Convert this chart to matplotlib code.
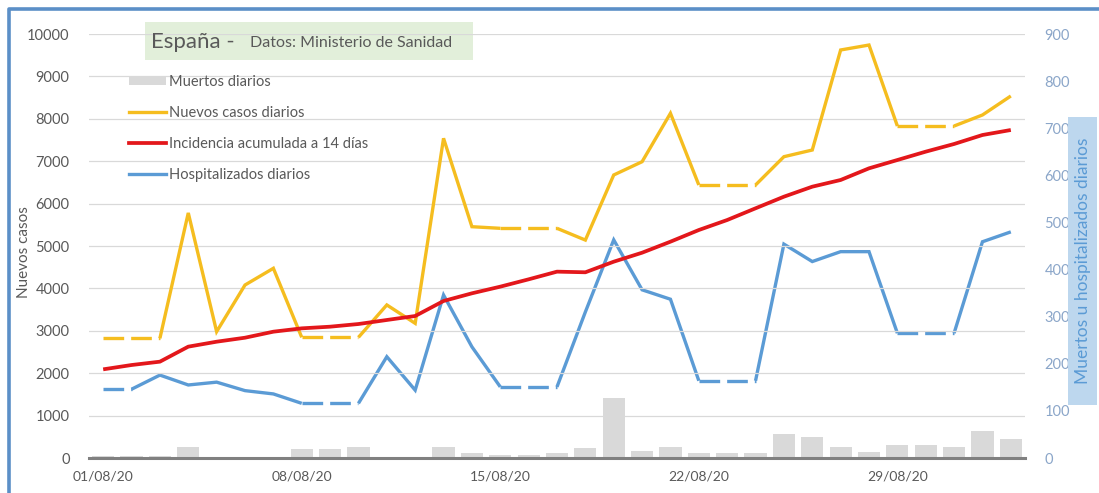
import matplotlib

matplotlib.use("Agg")
import matplotlib.pyplot as plt  # noqa: E402
import numpy as np  # noqa: E402
from matplotlib.lines import Line2D  # noqa: E402
from matplotlib.patches import Patch, Rectangle  # noqa: E402

# Daily series, 01/08/20 .. 02/09/20
dates = [f"{d:02d}/08/20" for d in range(1, 32)] + ["01/09/20", "02/09/20"]
nuevos_casos = [2823, 2823, 2823, 5780, 2980, 4080, 4474, 2846, 2846, 2846,
                3610, 3176, 7540, 5455, 5417, 5417, 5417, 5140, 6675, 6988,
                8130, 6439, 6439, 6439, 7106, 7264, 9623, 9740, 7830, 7830,
                7830, 8090, 8538]
incidencia_14d = [2091, 2193, 2272, 2626, 2743, 2837, 2979, 3058, 3097, 3160,
                  3255, 3349, 3703, 3884, 4041, 4214, 4395, 4380, 4630, 4842,
                  5102, 5377, 5613, 5889, 6163, 6399, 6557, 6832, 7028, 7225,
                  7406, 7618, 7736]
hospitalizados = [146, 146, 176, 155, 161, 143, 136, 116, 116, 116,
                  215, 144, 346, 236, 151, 151, 151, 310, 463, 357,
                  337, 164, 164, 164, 454, 417, 438, 438, 265, 265,
                  265, 459, 480]
muertos = [5, 5, 5, 24, 0, 0, 0, 20, 20, 24,
           3, 0, 24, 10, 6, 6, 10, 22, 127, 15,
           24, 10, 10, 10, 52, 45, 24, 13, 28, 28,
           24, 57, 40]
# weekend gaps (filled with the last reported value, drawn dashed)
casos_gaps = [(0, 2), (7, 9), (14, 16), (21, 23), (28, 30)]
hosp_gaps = [(0, 1), (7, 9), (14, 16), (21, 23), (28, 30)]

C = {
    "casos": "#f5bd1f",
    "incid": "#e3171b",
    "hosp": "#5b9bd5",
    "muertos": "#d9d9d9",
    "grid": "#d9d9d9",
    "axis": "#808080",
    "ink": "#595959",
    "right": "#8ba6c9",
    "title_bg": "#e2efda",
    "label_bg": "#bdd7ee",
}

W, H = 1099, 493

plt.rcParams["font.family"] = ["Lato", "DejaVu Sans"]


def fx(px):
    return px / W


def fy(py):
    return 1 - py / H


def draw_gapped(ax, x, y, gaps, color, lw=2.4):
    """Solid line between reported values, dashed across filled gaps."""
    y = np.asarray(y, float)
    starts = [0] + [b for (_, b) in gaps]
    ends = [a for (a, _) in gaps] + [len(y) - 1]
    for s, e in zip(starts, ends):
        if e > s:
            ax.plot(x[s:e + 1], y[s:e + 1], color=color, lw=lw,
                    solid_capstyle="butt", solid_joinstyle="miter", zorder=3)
    for a, b in gaps:
        ax.plot(x[a:b + 1], y[a:b + 1], color=color, lw=lw,
                linestyle=(0, (6.2, 2.1)), dash_capstyle="butt", zorder=3)


fig = plt.figure(figsize=(W / 100, H / 100), dpi=100)
fig.patch.set_facecolor("white")
ax = fig.add_axes([fx(89), fy(458), fx(1025 - 89), (458 - 34) / H])
ax2 = ax.twinx()

x = np.arange(len(dates))

# deaths as bars on the right scale, behind the lines
ax2.bar(x, muertos, width=0.78, color=C["muertos"], zorder=1)
ax2.set_ylim(0, 900)
ax2.set_yticks(range(0, 901, 100))
ax2.tick_params(axis="y", length=0, colors=C["right"], labelsize=10.5, pad=14)

draw_gapped(ax2, x, hospitalizados, hosp_gaps, C["hosp"])

ax.set_zorder(ax2.get_zorder() + 1)
ax.patch.set_visible(False)
ax.plot(x, incidencia_14d, color=C["incid"], lw=2.7, zorder=4,
        solid_capstyle="butt")
draw_gapped(ax, x, nuevos_casos, casos_gaps, C["casos"])

ax.set_ylim(0, 10000)
ax.set_yticks(range(0, 10001, 1000))
ax.grid(True, axis="y", color=C["grid"], lw=0.9)
ax.set_axisbelow(True)
ax.set_xlim(-0.5, len(dates) - 0.5)
ax.axhline(0, color=C["axis"], lw=2.2, zorder=5, clip_on=False)
ax.tick_params(axis="y", length=0, colors=C["ink"], labelsize=10.5, pad=14)
ax.set_xticks(x[::7])
ax.set_xticklabels(dates[::7])
ax.tick_params(axis="x", length=0, colors=C["ink"], labelsize=10, pad=9)
for a in (ax, ax2):
    for s in a.spines.values():
        s.set_visible(False)

# axis titles
fig.text(fx(24), fy(252), "Nuevos casos", rotation=90, ha="center",
         va="center", color=C["ink"], fontsize=11)
fig.patches.append(Rectangle((fx(1068), fy(405)), fx(29), (405 - 117) / H,
                             transform=fig.transFigure, fc=C["label_bg"],
                             ec="none", zorder=0))
fig.text(fx(1083), fy(261), "Muertos u hospitalizados diarios",
         rotation=90, ha="center", va="center", color=C["hosp"], fontsize=12.5)

handles = [
    Patch(facecolor=C["muertos"], edgecolor="none"),
    Line2D([], [], color=C["casos"], lw=2.4),
    Line2D([], [], color=C["incid"], lw=2.7),
    Line2D([], [], color=C["hosp"], lw=2.4),
]
labels = ["Muertos diarios", "Nuevos casos diarios",
          "Incidencia acumulada a 14 días", "Hospitalizados diarios"]
ax.legend(handles, labels, loc="upper left", bbox_to_anchor=(0.036, 0.918),
          frameon=False, fontsize=10.5, handlelength=2.6, handleheight=0.55,
          handletextpad=0.15, labelspacing=1.17, labelcolor=C["ink"],
          borderaxespad=0)

# title block
fig.patches.append(Rectangle((fx(145), fy(60)), fx(328), 38 / H,
                             transform=fig.transFigure, fc=C["title_bg"],
                             ec="none", zorder=0))
fig.text(fx(151), fy(42), "España -", fontsize=16, color=C["ink"],
         va="center")
fig.text(fx(250), fy(43), "Datos: Ministerio de Sanidad",
         fontsize=11.5, color=C["ink"], va="center")

# chart frame (left and top edges)
fig.add_artist(Line2D([fx(8.5), fx(8.5), 1.0], [0.0, fy(8.5), fy(8.5)],
                      transform=fig.transFigure, color="#5b8fc7", lw=2.6))

fig.savefig("out.png", dpi=100, facecolor="white")
